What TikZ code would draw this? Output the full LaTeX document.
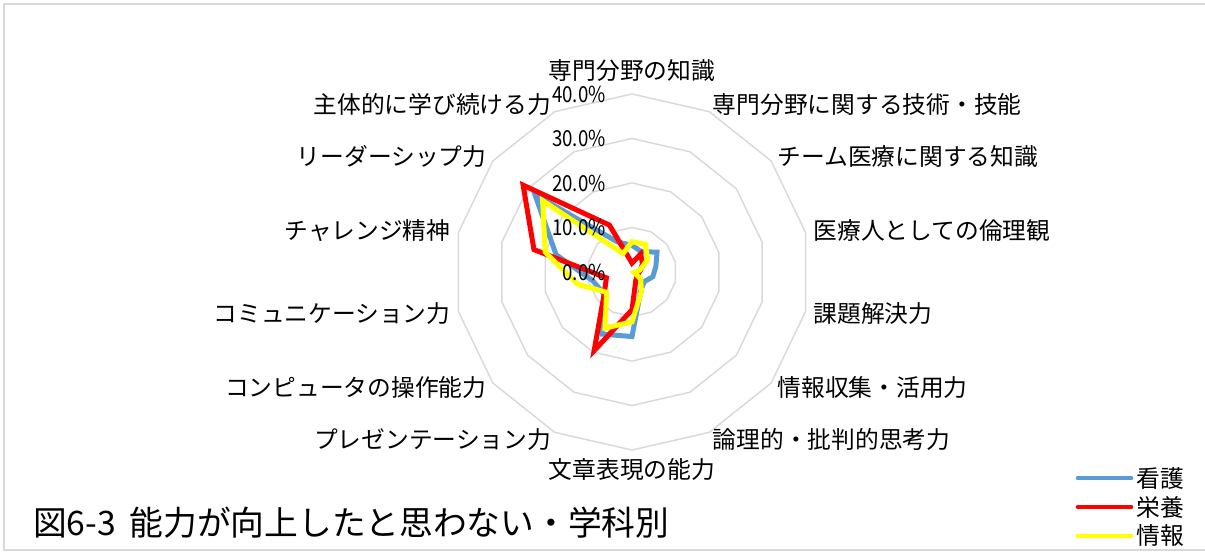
\documentclass[tikz,border=0pt]{standalone}
\usepackage{fontspec}
\setmainfont{Noto Sans CJK JP}
\newfontfamily\pctfont[FakeStretch=0.85]{Noto Sans CJK JP}
\usepackage{tikz}

\definecolor{gridgray}{HTML}{D9D9D9}
\definecolor{kango}{HTML}{5B9BD5}
\definecolor{eiyo}{HTML}{FF0000}
\definecolor{joho}{HTML}{FFFF00}

\tikzset{
  axislab/.style={font=\fontsize{17.8}{20}\selectfont, inner sep=0pt},
  pctlab/.style={font=\pctfont\fontsize{16.5}{18}\selectfont, anchor=east, inner sep=0pt},
  series/.style={line width=3.75pt, line join=miter},
  legline/.style={line width=3.5pt, line cap=round}
}

\begin{document}
\begin{tikzpicture}[x=0.75pt,y=0.75pt]

	\useasboundingbox (-632,-284) rectangle (573,272);
	\draw[gridgray, line width=1.1pt] (-628,-278) rectangle (580,268);
	
	% grid rings
	\foreach \r in {10,20,30,40}
		\draw[gridgray, line width=1.1pt] (90:\r*4.45)
			\foreach \k in {1,...,13}{ -- ({90-\k*360/14}:{\r*4.45})} -- cycle;
	
	% data
	\foreach \v [count=\k from 0] in {6.0,5.0,7.2,5.5,4.8,3.5,4.6,14.5,15.5,8.0,9.0,17.5,27.9,7.5}
		\coordinate (b\k) at ({90-\k*360/14}:{\v*4.45});
	\foreach \v [count=\k from 0] in {2.0,4.5,3.0,2.0,1.5,1.5,2.0,8.5,19.6,8.0,5.9,22.6,31.3,11.7}
		\coordinate (r\k) at ({90-\k*360/14}:{\v*4.45});
	\foreach \v [count=\k from 0] in {6.8,6.9,4.5,1.8,0.5,2.5,4.9,11.2,14.0,7.3,12.5,20.0,25.7,4.6}
		\coordinate (y\k) at ({90-\k*360/14}:{\v*4.45});
	
	\draw[series, kango] (b0) \foreach \k in {1,...,13}{ -- (b\k)} -- cycle;
	\draw[series, eiyo] (r0) \foreach \k in {1,...,13}{ -- (r\k)} -- cycle;
	\draw[series, joho] (y0) \foreach \k in {1,...,13}{ -- (y\k)} -- cycle;
	
	% scale labels
	\foreach \r in {0,10,20,30,40}
		\node[pctlab] (pct\r) at (-26,\r*4.45) {\r.0\%};
	
	% axis labels
	\foreach \k/\txt/\anc in {0/専門分野の知識/south, 1/専門分野に関する技術・技能/west,
		2/チーム医療に関する知識/west, 3/医療人としての倫理観/west, 4/課題解決力/west,
		5/情報収集・活用力/west, 6/論理的・批判的思考力/west, 7/文章表現の能力/north,
		8/プレゼンテーション力/east, 9/コンピュータの操作能力/east, 10/コミュニケーション力/east,
		11/チャレンジ精神/east, 12/リーダーシップ力/east, 13/主体的に学び続ける力/east}
		\node[axislab, anchor=\anc] (lab\k) at ({90-\k*360/14}:{\k==0 ? 190 : 186}) {\txt};
	
	% legend
	\foreach \n/\txt/\col/\yy in {1/看護/kango/-206, 2/栄養/eiyo/-235, 3/情報/joho/-264}{
		\coordinate (lk\n) at (446,\yy);
		\coordinate (le\n) at (499,\yy);
		\draw[legline, \col] (lk\n) -- (le\n);
		\node[axislab, anchor=west] (leg\n) at (504,\yy) {\txt};
	}
	
	\node[font=\fontsize{25.3}{28}\selectfont, anchor=west, inner sep=0pt] (title) at (-599,-251) {図6-3\hspace{0.4em}能力が向上したと思わない・学科別};
	
\end{tikzpicture}
\end{document}
